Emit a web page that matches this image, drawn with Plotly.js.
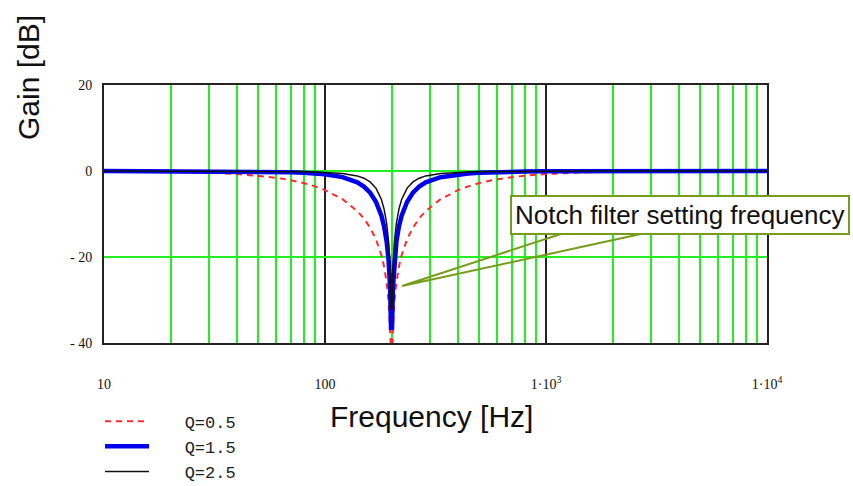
<!DOCTYPE html>
<html>
<head>
<meta charset="utf-8">
<script src="https://cdn.plot.ly/plotly-3.0.1.min.js"></script>
<style>html,body{margin:0;padding:0;background:#fff;}#chart{width:853px;height:486px;}</style>
</head>
<body>
<div id="chart"></div>
<script>
// Frequency points [Hz]
var freq = [10, 20, 30, 40, 50, 60, 70, 80, 90, 100, 120, 140, 150, 160, 170, 180, 185, 190, 194, 197, 199,
            201, 203, 206, 210.5, 216.2, 222.2, 235.3, 250, 266.7, 285.7, 333.3, 400, 444.4, 500, 571.4, 666.7,
            800, 1000, 1333, 2000, 4000, 10000];
// Gain [dB] for each Q
var gainQ05 = [-0.04, -0.17, -0.39, -0.70, -1.09, -1.57, -2.14, -2.80, -3.57, -4.44, -6.55, -9.31, -11.06, -13.17, -15.86, -19.58, -22.18, -25.81, -30.33, -36.42, -46.0,
               -46.0, -36.42, -30.33, -25.81, -22.18, -19.58, -15.86, -13.17, -11.06, -9.31, -6.55, -4.44, -3.57, -2.80, -2.14, -1.57,
               -1.09, -0.70, -0.39, -0.17, -0.04, -0.01];
var gainQ15 = [0.0, -0.02, -0.05, -0.08, -0.14, -0.21, -0.30, -0.42, -0.58, -0.78, -1.43, -2.64, -3.63, -5.04, -7.14, -10.40, -12.84, -16.35, -20.82, -26.88, -36.46,
               -36.46, -26.88, -20.82, -16.35, -12.84, -10.40, -7.14, -5.04, -3.63, -2.64, -1.43, -0.78, -0.58, -0.42, -0.30, -0.21,
               -0.14, -0.08, -0.05, -0.02, 0.0, 0.0];
var gainQ25 = [0.0, -0.01, -0.02, -0.03, -0.05, -0.08, -0.11, -0.16, -0.22, -0.30, -0.57, -1.14, -1.67, -2.53, -3.98, -6.62, -8.79, -12.09, -16.44, -22.46, -32.02,
               -32.02, -22.46, -16.44, -12.09, -8.79, -6.62, -3.98, -2.53, -1.67, -1.14, -0.57, -0.30, -0.22, -0.16, -0.11, -0.08,
               -0.05, -0.03, -0.02, -0.01, 0.0, 0.0];
var seriesNames = ["Q=0.5", "Q=1.5", "Q=2.5"];
// x axis: decade ticks (black grid) and 2..9 sub-divisions (green grid)
var xTickVals = [10, 100, 1000, 10000];
var xTickText = ["10", "100", "1\u00b710<sup>3</sup>", "1\u00b710<sup>4</sup>"];
var xMinorVals = [20, 30, 40, 50, 60, 70, 80, 90, 200, 300, 400, 500, 600, 700, 800, 900,
                  2000, 3000, 4000, 5000, 6000, 7000, 8000, 9000];
var yRange = [-40, 20];
var yTickVals = [-40, -20, 0, 20];
var yTickText = ["- 40", "- 20", "0", "20"];
var calloutText = "Notch filter setting frequency";

var pad = "\u00a0\u00a0\u00a0";
var traces = [
  {x: freq, y: gainQ05, name: pad + seriesNames[0], mode: "lines",
   line: {color: "#ff2a2a", width: 2, dash: "6px,5px"}},
  {x: freq, y: gainQ15, name: pad + seriesNames[1], mode: "lines",
   line: {color: "#0000ee", width: 4.5}},
  {x: freq, y: gainQ25, name: pad + seriesNames[2], mode: "lines",
   line: {color: "#111111", width: 1.5}}
];

var layout = {
  width: 853, height: 486,
  margin: {l: 104, r: 86, t: 85, b: 143, autoexpand: false},
  paper_bgcolor: "#ffffff", plot_bgcolor: "#ffffff",
  showlegend: true,
  legend: {x: -0.006, y: -0.235, xanchor: "left", yanchor: "top", itemwidth: 44,
           font: {family: "Liberation Mono", size: 17, color: "#222"}, bgcolor: "rgba(0,0,0,0)"},
  xaxis: {
    type: "log", range: [1, 4], tickmode: "array", tickvals: xTickVals, ticktext: xTickText,
    showgrid: true, gridcolor: "#222222", gridwidth: 2,
    minor: {tickmode: "array", tickvals: xMinorVals, showgrid: true, gridcolor: "#22ee22", gridwidth: 2, ticks: ""},
    showline: true, mirror: true, linecolor: "#222222", linewidth: 2,
    ticks: "", ticklabelstandoff: 27, zeroline: false,
    tickfont: {family: "Liberation Serif", size: 14, color: "#111"}
  },
  yaxis: {
    range: yRange, tickmode: "array", tickvals: yTickVals, ticktext: yTickText,
    showgrid: true, gridcolor: "#22ee22", gridwidth: 2, zeroline: false,
    showline: true, mirror: true, linecolor: "#222222", linewidth: 2,
    ticks: "", ticklabelstandoff: 7,
    tickfont: {family: "Liberation Serif", size: 14, color: "#111"}
  },
  annotations: [
    {text: "Frequency [Hz]", xref: "paper", yref: "paper", x: 0.494, y: -0.283,
     xanchor: "center", yanchor: "middle", showarrow: false,
     font: {family: "Liberation Sans", size: 30, color: "#111"}},
    {text: "Gain [dB]", xref: "paper", yref: "paper", x: -0.1146, y: 1.027, textangle: -90,
     xanchor: "center", yanchor: "middle", showarrow: false,
     font: {family: "Liberation Sans", size: 30, color: "#111"}},
    {text: calloutText, xref: "paper", yref: "paper", x: 0.8695, y: 0.498,
     xanchor: "center", yanchor: "middle", showarrow: false,
     bgcolor: "#ffffff", bordercolor: "#779c1c", borderwidth: 2, borderpad: 3,
     font: {family: "Liberation Sans", size: 26, color: "#111"}}
  ],
  shapes: [
    {type: "path", xref: "paper", yref: "paper",
     path: "M 0.6983 0.4302 L 0.4495 0.2209 L 0.8235 0.4302",
     line: {color: "#779c1c", width: 2}, layer: "above"}
  ]
};

Plotly.newPlot("chart", traces, layout, {displayModeBar: false, staticPlot: true});
</script>
</body>
</html>
